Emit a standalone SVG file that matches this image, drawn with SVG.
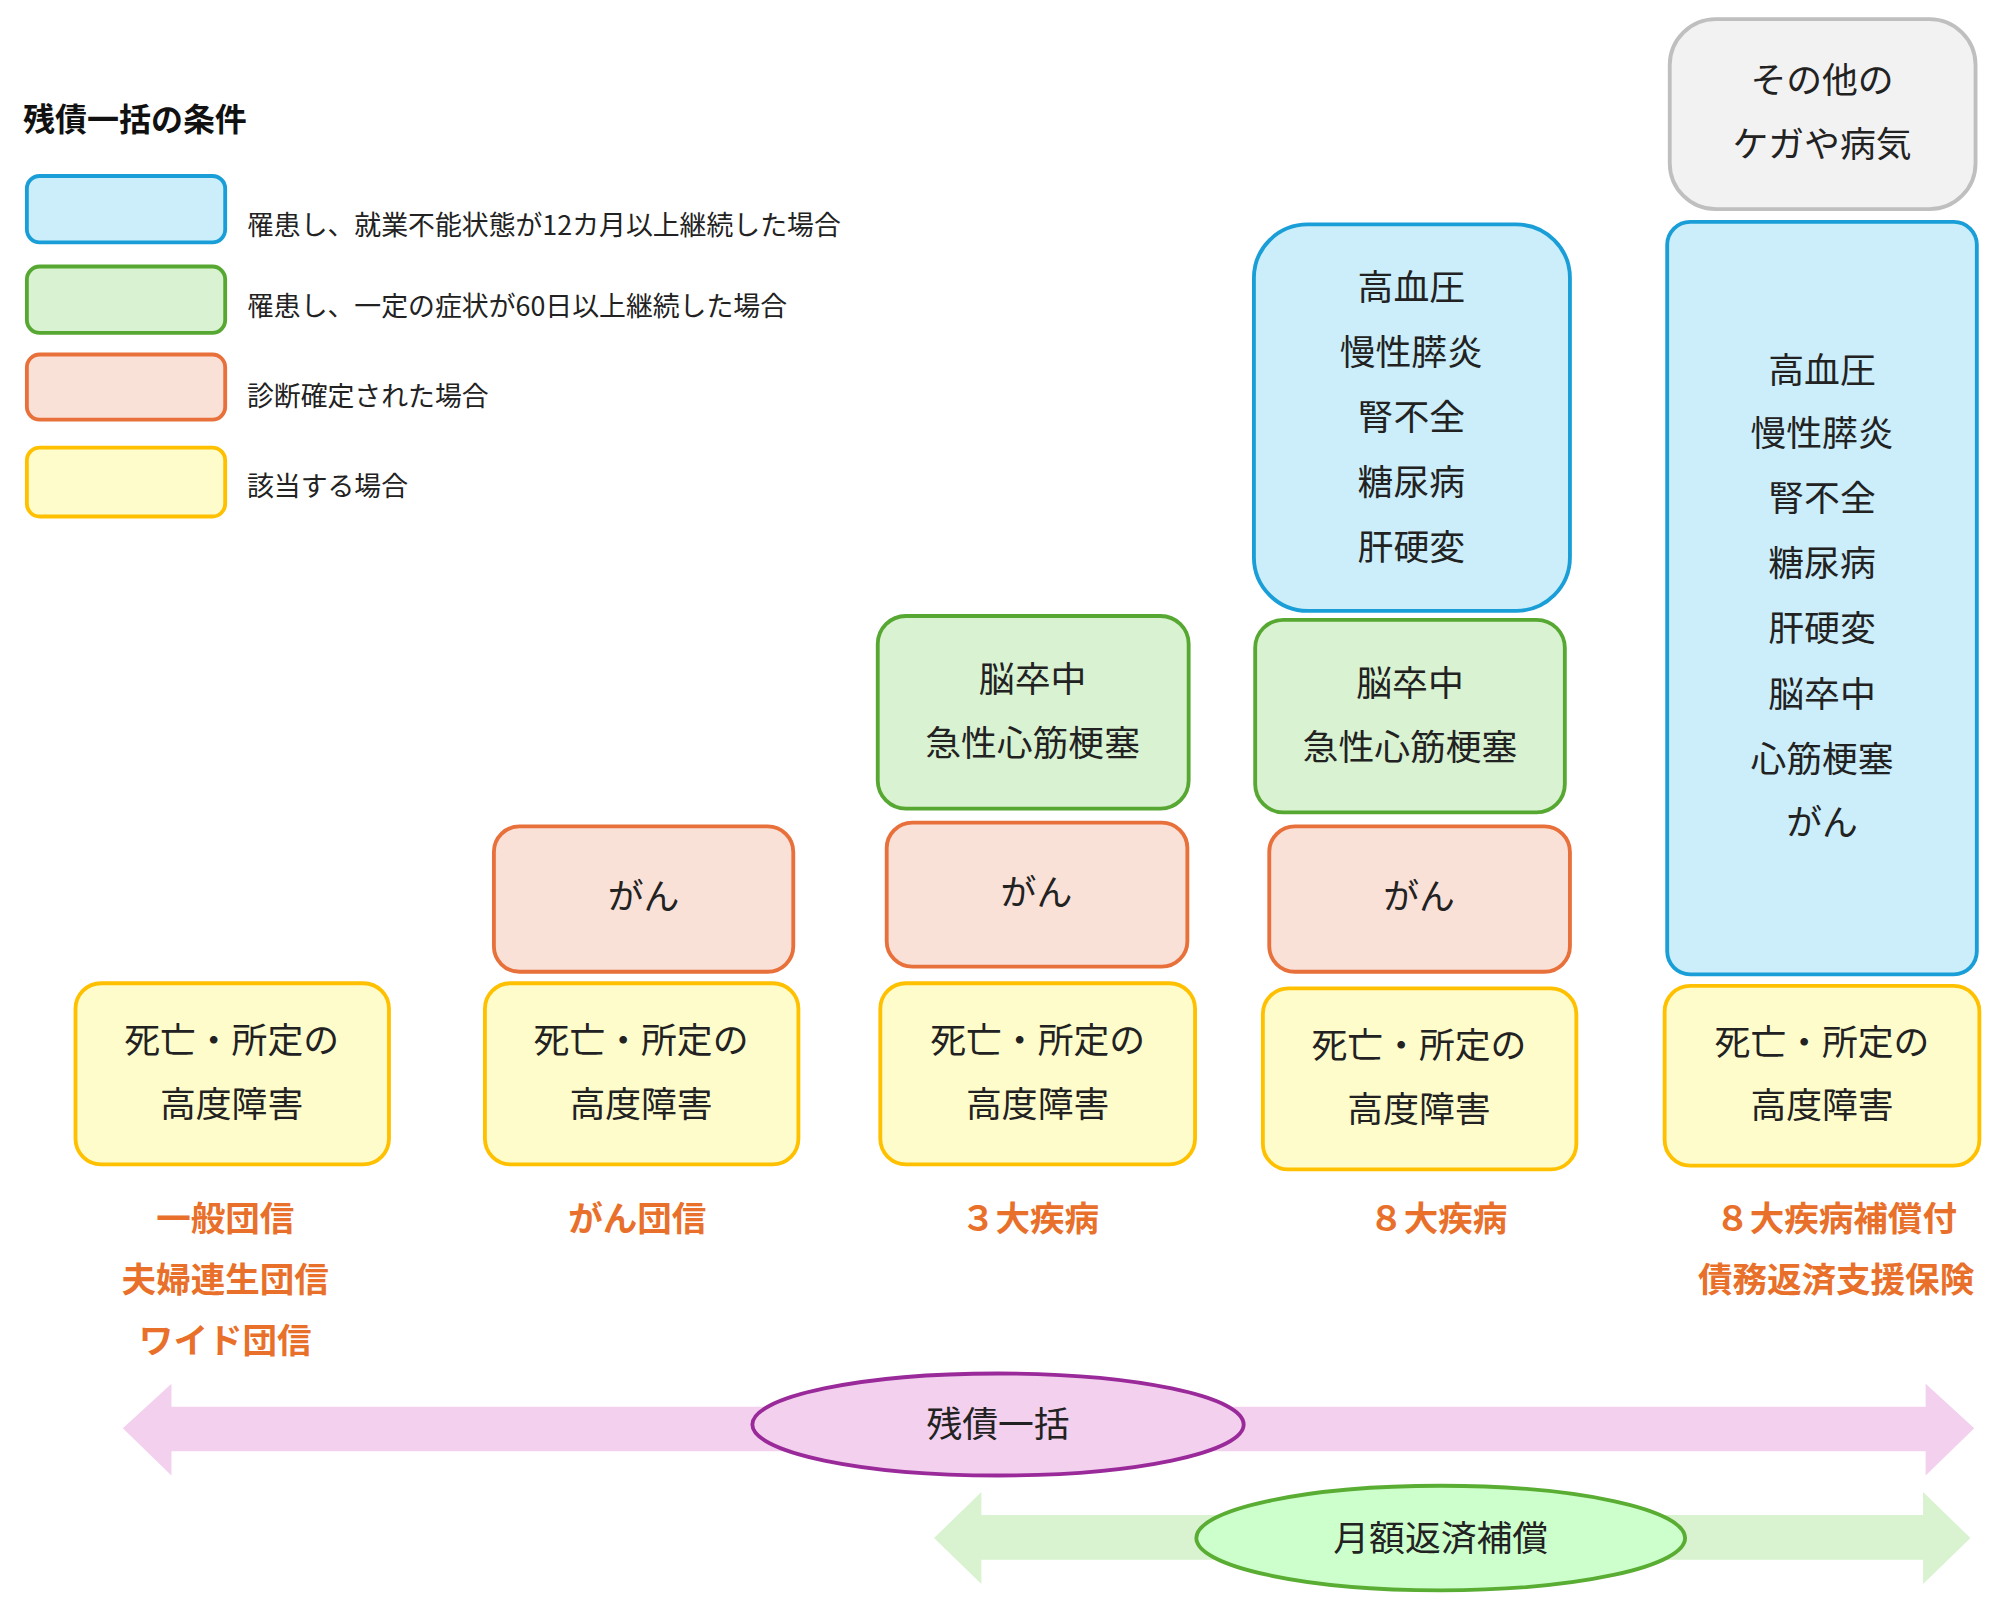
<svg xmlns="http://www.w3.org/2000/svg" width="1996" height="1612" viewBox="0 0 1996 1612">
<style>
text{font-family:"Noto Sans CJK JP","Noto Sans",sans-serif;fill:#222;text-anchor:middle;font-size:28px}
.lg{text-anchor:start;font-size:21px}
.t{text-anchor:start;font-size:25px;font-weight:bold;fill:#111}
.lab{fill:#e8702a;font-weight:bold;font-size:27px}
.b{fill:#cbeefa;stroke:#1a9ed8;stroke-width:3}
.g{fill:#d9f2d1;stroke:#57a832;stroke-width:3}
.o{fill:#fae1d8;stroke:#e8703a;stroke-width:3}
.y{fill:#fffccc;stroke:#ffc000;stroke-width:3}
.gr{fill:#f2f2f2;stroke:#bfbfbf;stroke-width:3}
</style>
<rect width="1996" height="1612" fill="#fff"/>
<g transform="scale(1.2795 1.2753)">
<g id="legend">
<text class="t" x="18" y="103">残債一括の条件</text>
<rect class="b" x="21" y="138" width="155" height="52" rx="10"/>
<rect class="g" x="21" y="209" width="155" height="52" rx="10"/>
<rect class="o" x="21" y="278" width="155" height="51" rx="10"/>
<rect class="y" x="21" y="351" width="155" height="54" rx="10"/>
<text class="lg" x="193" y="184">罹患し、就業不能状態が12カ月以上継続した場合</text>
<text class="lg" x="193" y="248">罹患し、一定の症状が60日以上継続した場合</text>
<text class="lg" x="193" y="318">診断確定された場合</text>
<text class="lg" x="193" y="389">該当する場合</text>
</g>
<g id="c1">
<rect class="y" x="59" y="771" width="245" height="142" rx="20"/>
<text x="181" y="826">死亡・所定の</text><text x="181" y="876">高度障害</text>
<text class="lab" x="176" y="965">一般団信</text><text class="lab" x="176" y="1013">夫婦連生団信</text><text class="lab" x="176" y="1061">ワイド団信</text>
</g>
<g id="c2">
<rect class="o" x="386" y="648" width="234" height="114" rx="20"/>
<text x="503" y="713">がん</text>
<rect class="y" x="379" y="771" width="245" height="142" rx="20"/>
<text x="501" y="826">死亡・所定の</text><text x="501" y="876">高度障害</text>
<text class="lab" x="498" y="965">がん団信</text>
</g>
<g id="c3">
<rect class="g" x="686" y="483" width="243" height="151" rx="22"/>
<text x="807" y="543">脳卒中</text><text x="807" y="593">急性心筋梗塞</text>
<rect class="o" x="693" y="645" width="235" height="113" rx="20"/>
<text x="810" y="710">がん</text>
<rect class="y" x="688" y="771" width="246" height="142" rx="20"/>
<text x="811" y="826">死亡・所定の</text><text x="811" y="876">高度障害</text>
<text class="lab" x="805" y="965">３大疾病</text>
</g>
<g id="c4">
<rect class="b" x="980" y="176" width="247" height="303" rx="42"/>
<text x="1103" y="235">高血圧</text><text x="1103" y="286">慢性膵炎</text><text x="1103" y="337">腎不全</text><text x="1103" y="388">糖尿病</text><text x="1103" y="439">肝硬変</text>
<rect class="g" x="981" y="486" width="242" height="151" rx="22"/>
<text x="1102" y="546">脳卒中</text><text x="1102" y="596">急性心筋梗塞</text>
<rect class="o" x="992" y="648" width="235" height="114" rx="20"/>
<text x="1109" y="713">がん</text>
<rect class="y" x="987" y="775" width="245" height="142" rx="20"/>
<text x="1109" y="830">死亡・所定の</text><text x="1109" y="880">高度障害</text>
<text class="lab" x="1124" y="965">８大疾病</text>
</g>
<g id="c5">
<rect class="gr" x="1305" y="15" width="239" height="149" rx="36"/>
<text x="1424" y="73">その他の</text><text x="1424" y="123">ケガや病気</text>
<rect class="b" x="1303" y="174" width="242" height="590" rx="18"/>
<text x="1424" y="300">高血圧</text><text x="1424" y="350">慢性膵炎</text><text x="1424" y="401">腎不全</text><text x="1424" y="452">糖尿病</text><text x="1424" y="503">肝硬変</text><text x="1424" y="554">脳卒中</text><text x="1424" y="605">心筋梗塞</text><text x="1424" y="655">がん</text>
<rect class="y" x="1301" y="773" width="246" height="141" rx="20"/>
<text x="1424" y="827">死亡・所定の</text><text x="1424" y="877">高度障害</text>
<text class="lab" x="1435" y="965">８大疾病補償付</text><text class="lab" x="1435" y="1013">債務返済支援保険</text>
</g>
<g id="connectors">
<polygon fill="#f2d0ee" points="96,1120 134,1085 134,1103 1505,1103 1505,1085 1543,1120 1505,1157 1505,1138 134,1138 134,1157"/>
<polygon fill="#d9f2d0" points="730,1206 767,1170 767,1188 1503,1188 1503,1170 1540,1206 1503,1242 1503,1223 767,1223 767,1242"/>
</g>
<g id="e1">
<ellipse cx="780" cy="1117" rx="192" ry="40" fill="#f2d0ee" stroke="#9a2a9a" stroke-width="3"/>
<text x="780" y="1127">残債一括</text>
</g>
<g id="e2">
<ellipse cx="1126" cy="1206" rx="191" ry="41" fill="#ccffcc" stroke="#5aad33" stroke-width="3"/>
<text x="1126" y="1216">月額返済補償</text>
</g>
</g>
</svg>
